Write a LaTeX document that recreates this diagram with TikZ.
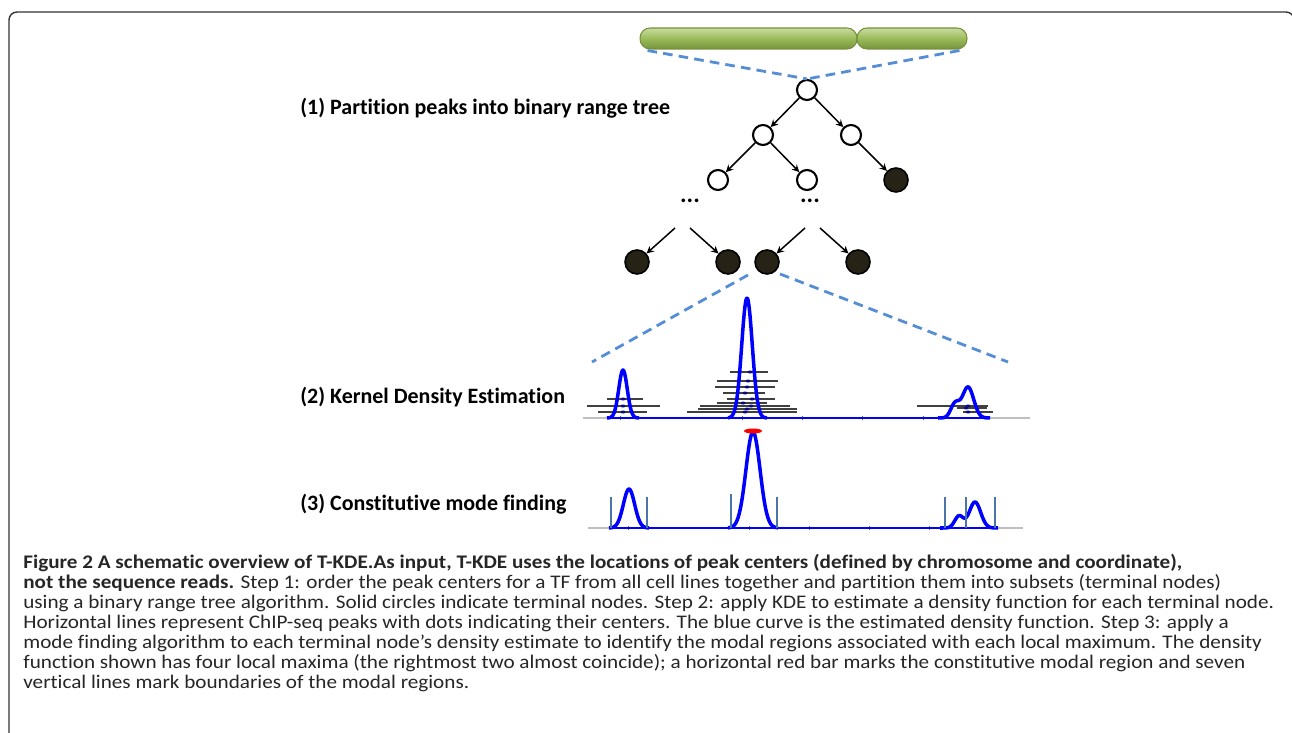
\documentclass[tikz,border=0pt]{standalone}
\usepackage{fontspec}
\setmainfont{Carlito}[Ligatures=NoCommon]
\newfontfamily\capfont{Carlito}[FakeStretch=1.1, Ligatures=NoCommon]
\usetikzlibrary{arrows, positioning, calc}
\tikzset{>=stealth}
\definecolor{chrgreen}{RGB}{155,187,89}
\definecolor{chrlight}{RGB}{200,220,160}
\definecolor{chrdark}{RGB}{118,146,60}
\definecolor{dashblue}{RGB}{85,142,213}
\definecolor{termfill}{RGB}{38,34,22}
\definecolor{modeblue}{RGB}{74,117,168}
\definecolor{dotblue}{RGB}{10,10,130}

\begin{document}
\begin{tikzpicture}[x=0.02cm, y=-0.02cm,
    declare function={g(\x,\m,\h,\w)=\h*exp(-((\x-\m)/\w)*((\x-\m)/\w));},
    chrom/.style={rounded corners=0.2cm, minimum height=0.42cm, inner sep=0pt, draw=chrdark, line width=0.6pt, top color=chrlight, bottom color=chrdark, middle color=chrgreen},
    opennode/.style={circle, draw, line width=1.2pt, fill=white, minimum size=0.4cm, inner sep=0pt},
    termnode/.style={circle, draw, line width=0.9pt, fill=termfill, minimum size=0.48cm, inner sep=0pt},
    zoomline/.style={dashblue, line width=1.6pt, dash pattern=on 5.5pt off 3.5pt},
    tree/.style={->, line width=0.85pt},
    kde/.style={blue, line width=2pt, line join=round},
    kdeflat/.style={blue, line width=0.8pt},
    axisline/.style={black!25, line width=1pt},
    peakline/.style={black!75, line width=0.7pt},
    modeline/.style={modeblue, line width=1.2pt},
    steplabel/.style={font=\bfseries\fontsize{12.5}{14}\selectfont, anchor=west, inner sep=0pt},
    capline/.style={font=\capfont\fontsize{10.95}{13}\selectfont, text=black!85, anchor=west, inner sep=0pt}]

    \useasboundingbox (0,0) rectangle (1292,733);
    \draw[black!80, line width=0.8pt, rounded corners=0.16cm] (9,745) -- (9,12) -- (1294,12) -- (1294,745);

    % chromosome and tree
    \node[chrom, minimum width=4.34cm] (chrL) at (748.5,38.5) {};
    \node[chrom, minimum width=2.2cm] (chrR) at (912,38.5) {};

    \node[opennode] (root) at (807,90) {};
    \node[opennode] (l) at (763,135) {};
    \node[opennode] (r) at (851,135) {};
    \node[opennode] (ll) at (718,180) {};
    \node[opennode] (lr) at (807,180) {};
    \node[termnode] (rr) at (896,180) {};
    \node[font=\bfseries\fontsize{14}{14}\selectfont] (d1) at (690,201) {...};
    \node[font=\bfseries\fontsize{14}{14}\selectfont] (d2) at (810,201) {...};
    \node[termnode] (t1) at (637,262) {};
    \node[termnode] (t2) at (728,262) {};
    \node[termnode] (t3) at (767,262) {};
    \node[termnode] (t4) at (858,262) {};

    \draw[zoomline] ($(chrL.south west)+(8,1)$) -- (root.north);
    \draw[zoomline] ($(chrR.south east)+(-8,1)$) -- (root.north);

    \draw[tree] (root) -- (l);
    \draw[tree] (root) -- (r);
    \draw[tree] (l) -- (ll);
    \draw[tree] (l) -- (lr);
    \draw[tree] (r) -- (rr);
    \draw[tree] ($(d1)+(-15,27)$) -- (t1);
    \draw[tree] ($(d1)+(0,27)$) -- (t2);
    \draw[tree] ($(d2)+(-5,27)$) -- (t3);
    \draw[tree] ($(d2)+(10,27)$) -- (t4);

    \coordinate (kdeL) at (592,362);
    \coordinate (kdeR) at (1008,362);
    \draw[zoomline] ($(t3)+(-19,13)$) -- (kdeL);
    \draw[zoomline] ($(t3)+(13,12)$) -- (kdeR);

    \node[steplabel] (lab1) at (300,108) {(1) Partition peaks into binary range tree};
    \node[steplabel] (lab2) at (300,397) {(2) Kernel Density Estimation};
    \node[steplabel] (lab3) at (300,504) {(3) Constitutive mode finding};

    % kernel density estimation
    \draw[axisline] (583,418) -- (1030,418);
    \foreach \x in {620,742,802,862,923}
    {
        \draw[black!60, line width=0.4pt] (\x,416) -- (\x,420);
    }
    \foreach \y/\a/\b/\d in {399/607/643/623, 406/587/660/623, 412/598/647/623,
        372/730/768/750, 381/717/778/748, 387/715/775/747, 393/723/765/745, 399/727/775/752,
        403/717/767/743, 406/700/790/751, 409/698/797/747, 412/687/797/745,
        406/917/988/968, 408/957/987/966, 412/963/993/968}
    {
        \draw[peakline] (\a,\y) -- (\b,\y);
        \fill[dotblue] (\d,\y) ellipse (2.5 and 1.5);
    }
    \draw[kdeflat] (607,418) -- (990,418);
    \draw[kde] plot[domain=607:639, samples=41, smooth] (\x,{418-g(\x,623,48,6)});
    \draw[kde] plot[domain=728:767, samples=51, smooth] (\x,{418-g(\x,747,120,7.5)});
    \draw[kde] plot[domain=938:990, samples=61, smooth] (\x,{418-g(\x,968,31,8)-g(\x,955,14,6)});

    % mode finding
    \draw[axisline] (588,528) -- (1023,528);
    \foreach \x in {628,749,809,869,929}
    {
        \draw[black!60, line width=0.4pt] (\x,526) -- (\x,530);
    }
    \draw[kdeflat] (610,528) -- (997,528);
    \draw[kde] plot[domain=609:649, samples=41, smooth] (\x,{528-g(\x,629,39,8)});
    \draw[kde] plot[domain=728:778, samples=51, smooth] (\x,{528-g(\x,753,96,10)});
    \draw[kde] plot[domain=940:998, samples=61, smooth] (\x,{528-g(\x,975,26,8)-g(\x,959,12,6)});
    \fill[red] (753,431) ellipse (9 and 2.5);
    \foreach \x/\t in {611/497, 647/497, 731/494, 777/497, 945/497, 966/497, 995/497}
    {
        \draw[modeline] (\x,\t) -- (\x,528);
    }

    % caption
    \node[capline] (cap1) at (23,563) {\textbf{Figure 2 A schematic overview of T-KDE.As input, T-KDE uses the locations of peak centers (defined by chromosome and coordinate),}};
    \node[capline] (cap2) at (23,583) {\textbf{not the sequence reads.} Step 1: order the peak centers for a TF from all cell lines together and partition them into subsets (terminal nodes)};
    \node[capline] (cap3) at (23,603) {using a binary range tree algorithm. Solid circles indicate terminal nodes. Step 2: apply KDE to estimate a density function for each terminal node.};
    \node[capline] (cap4) at (23,623) {Horizontal lines represent ChIP-seq peaks with dots indicating their centers. The blue curve is the estimated density function. Step 3: apply a};
    \node[capline] (cap5) at (23,643) {mode finding algorithm to each terminal node’s density estimate to identify the modal regions associated with each local maximum. The density};
    \node[capline] (cap6) at (23,663) {function shown has four local maxima (the rightmost two almost coincide); a horizontal red bar marks the constitutive modal region and seven};
    \node[capline] (cap7) at (23,683) {vertical lines mark boundaries of the modal regions.};
\end{tikzpicture}
\end{document}
